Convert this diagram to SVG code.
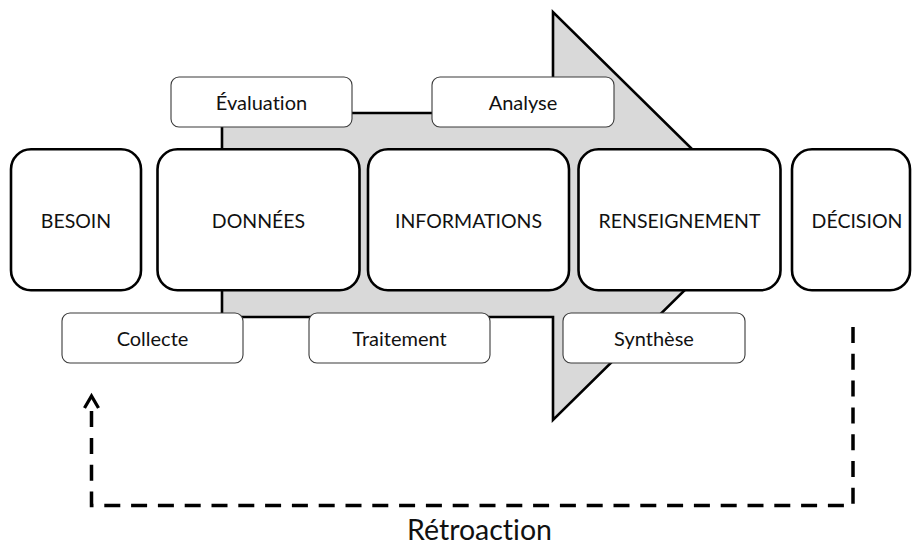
<svg xmlns="http://www.w3.org/2000/svg" width="912" height="546" viewBox="0 0 912 546">
  <style>
    .main rect { fill: #ffffff; stroke: #000000; stroke-width: 2.6; }
    .sub rect { fill: #ffffff; stroke: #3a3a3a; stroke-width: 1.1; }
    text { font-family: Lato, "Liberation Sans", sans-serif; fill: #111111; text-anchor: middle; font-variant-ligatures: none; font-feature-settings: "liga" 0, "dlig" 0; }
    .main text { font-size: 19.5px; }
    .sub text { font-size: 20px; }
    .fb { fill: none; stroke: #000000; stroke-width: 3.5; stroke-dasharray: 16 10.8; }
  </style>
  <defs>
    <marker id="chev" markerUnits="userSpaceOnUse" orient="auto" refX="0" refY="0" markerWidth="20" markerHeight="20" viewBox="-16 -10 20 20" overflow="visible">
      <path d="M-12,-7 L0,0 L-12,7" fill="none" stroke="#000000" stroke-width="3.3" stroke-linejoin="miter"/>
    </marker>
  </defs>

  <g id="big-arrow">
    <polygon points="222,113 553,113 553,12 760,216 553,420 553,317 222,317" fill="#d9d9d9" stroke="#000000" stroke-width="2.6" stroke-linejoin="miter"/>
  </g>

  <g id="connectors">
    <path class="fb" d="M853,327 V505.5 H91.5 V411"/>
    <path d="M91.5,411 V396" fill="none" stroke="none" marker-end="url(#chev)"/>
  </g>

  <g id="besoin" class="main">
    <rect x="11" y="149.3" width="130" height="141" rx="20"/>
    <text x="76" y="228">BESOIN</text>
  </g>
  <g id="donnees" class="main">
    <rect x="157.5" y="149.3" width="202" height="141" rx="20"/>
    <text x="258.5" y="228">DONNÉES</text>
  </g>
  <g id="informations" class="main">
    <rect x="368" y="149.3" width="201" height="141" rx="20"/>
    <text x="468.5" y="228">INFORMATIONS</text>
  </g>
  <g id="renseignement" class="main">
    <rect x="578.5" y="149.3" width="202" height="141" rx="20"/>
    <text x="679.5" y="228">RENSEIGNEMENT</text>
  </g>
  <g id="decision" class="main">
    <rect x="792" y="149.3" width="118" height="141" rx="20"/>
    <text x="857" y="228">DÉCISION</text>
  </g>

  <g id="evaluation" class="sub">
    <rect x="171" y="77" width="181" height="50" rx="8"/>
    <text x="261.5" y="109.5">Évaluation</text>
  </g>
  <g id="analyse" class="sub">
    <rect x="432" y="77" width="182" height="50" rx="8"/>
    <text x="523" y="109.5">Analyse</text>
  </g>
  <g id="collecte" class="sub">
    <rect x="62" y="313" width="181" height="50" rx="8"/>
    <text x="152.5" y="345.5">Collecte</text>
  </g>
  <g id="traitement" class="sub">
    <rect x="309" y="313" width="181" height="50" rx="8"/>
    <text x="399.5" y="345.5">Traitement</text>
  </g>
  <g id="synthese" class="sub">
    <rect x="563" y="313" width="182" height="50" rx="8"/>
    <text x="654" y="345.5">Synthèse</text>
  </g>

  <g id="retroaction-label">
    <text x="479.5" y="540" style="font-size:28.5px">Rétroaction</text>
  </g>
</svg>
